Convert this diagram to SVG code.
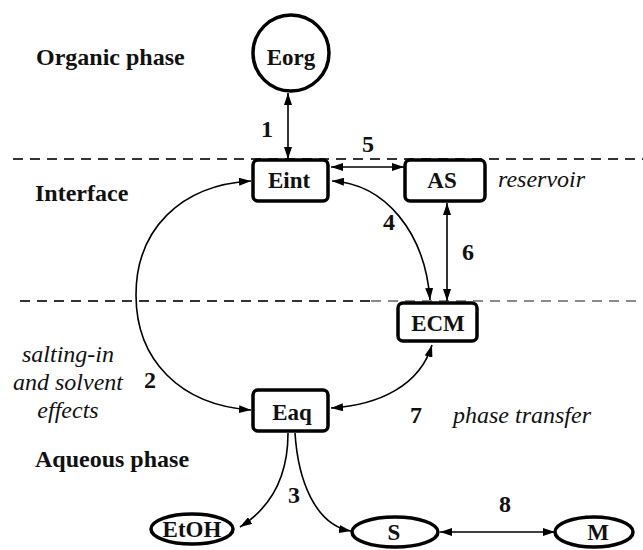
<svg xmlns="http://www.w3.org/2000/svg" width="643" height="550" viewBox="0 0 643 550" font-family="'Liberation Serif', 'Times New Roman', 'DejaVu Serif', serif">
<style>
text{font-family:'Liberation Serif','Times New Roman','DejaVu Serif',serif;fill:#111}
.lbl{font-size:24px;font-weight:bold}
.it{font-size:24px;font-style:italic}
.node{fill:#fff;stroke:#000;stroke-width:3.5}
.nt{font-size:23px;font-weight:bold;text-anchor:middle}
.num{font-size:24px;font-weight:bold;text-anchor:middle}
.dash{stroke:#333;stroke-width:2;stroke-dasharray:10 7;fill:none}
.conn{stroke:#000;stroke-width:1.6;fill:none;marker-start:url(#ah);marker-end:url(#ah)}
</style>
<defs>
<marker id="ah" viewBox="0 0 12 8" refX="12" refY="4" markerWidth="12" markerHeight="8" markerUnits="userSpaceOnUse" orient="auto-start-reverse">
<path d="M0,0 L12,4 L0,8 z" fill="#000"/>
</marker>
</defs>
<rect width="643" height="550" fill="#fff"/>
<g id="phases">
<line class="dash" x1="13" y1="159" x2="643" y2="159"/>
<line class="dash" x1="20" y1="301" x2="371" y2="301"/>
<line class="dash" x1="371" y1="301" x2="643" y2="301" style="stroke:#8a8a8a"/>
<text class="lbl" x="36" y="65">Organic phase</text>
<text class="lbl" x="35" y="201">Interface</text>
<text class="lbl" x="35" y="467">Aqueous phase</text>
<text class="it" x="68" y="362" text-anchor="middle">salting-in</text>
<text class="it" x="68" y="390" text-anchor="middle">and solvent</text>
<text class="it" x="68" y="418" text-anchor="middle">effects</text>
<text class="it" x="498" y="187">reservoir</text>
<text class="it" x="453" y="423">phase transfer</text>
</g>
<g id="connectors">
<line class="conn" x1="288" y1="93" x2="288" y2="159"/>
<line class="conn" x1="331" y1="167" x2="404" y2="167"/>
<path class="conn" d="M332 181 C385 184,425 232,430 300"/>
<line class="conn" x1="447" y1="203" x2="447" y2="301"/>
<path class="conn" d="M251 181 C180 185,136 230,136 295 C136 360,180 405,251 410"/>
<path class="conn" d="M331 408 C380 405,420 385,432 345"/>
<path class="conn" style="marker-start:none" d="M288 433 C288 472,275 505,240 527"/>
<path class="conn" style="marker-start:none" d="M295 433 C298 480,315 525,351 531"/>
<line class="conn" x1="440" y1="532" x2="555" y2="532"/>
<text class="num" x="267" y="137">1</text>
<text class="num" x="150" y="388">2</text>
<text class="num" x="294" y="503">3</text>
<text class="num" x="389" y="230">4</text>
<text class="num" x="368" y="152">5</text>
<text class="num" x="468" y="260">6</text>
<text class="num" x="416" y="423">7</text>
<text class="num" x="505" y="512">8</text>
</g>
<g id="Eorg"><circle class="node" cx="291" cy="53" r="38"/><text class="nt" x="291" y="65">Eorg</text></g>
<g id="Eint"><rect class="node" x="253" y="160" width="75" height="41" rx="5"/><text class="nt" x="289" y="188">Eint</text></g>
<g id="AS"><rect class="node" x="405" y="160" width="80" height="41" rx="5"/><text class="nt" x="442" y="188">AS</text></g>
<g id="ECM"><rect class="node" x="398" y="303" width="79" height="38" rx="5"/><text class="nt" x="438" y="331">ECM</text></g>
<g id="Eaq"><rect class="node" x="253" y="390" width="75" height="41" rx="5"/><text class="nt" x="292" y="420">Eaq</text></g>
<g id="EtOH"><ellipse class="node" cx="192" cy="529" rx="41" ry="15"/><text class="nt" x="192" y="537">EtOH</text></g>
<g id="S"><ellipse class="node" cx="395" cy="532" rx="43" ry="15"/><text class="nt" x="394" y="540">S</text></g>
<g id="M"><ellipse class="node" cx="594" cy="532" rx="39" ry="15"/><text class="nt" x="598" y="540">M</text></g>
</svg>
